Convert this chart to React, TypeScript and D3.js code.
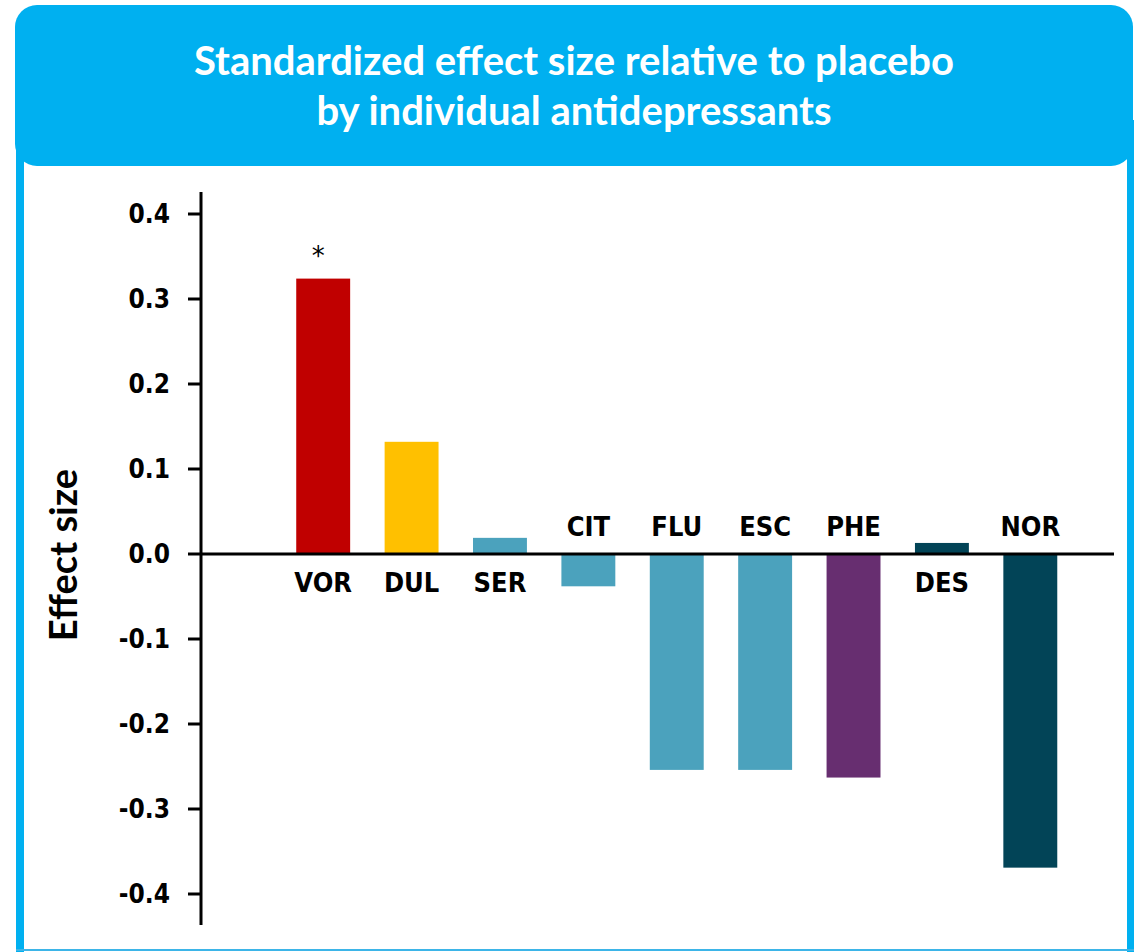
import React from "react";
import * as d3 from "d3";

const drugs = ["VOR", "DUL", "SER", "CIT", "FLU", "ESC", "PHE", "DES", "NOR"];
const effectSizes = [0.324, 0.132, 0.019, -0.038, -0.254, -0.254, -0.263, 0.013, -0.369];
const barColors = ["#C00000", "#FFC000", "#4BA2BD", "#4BA2BD", "#4BA2BD", "#4BA2BD", "#672E70", "#024457", "#024457"];
const yTicks = [0.4, 0.3, 0.2, 0.1, 0.0, -0.1, -0.2, -0.3, -0.4];
const significant = ["VOR"];

const W = 1142;
const H = 952;
const blue = "#00B0F0";
const labelFont = "'DejaVu Sans Condensed', 'DejaVu Sans', sans-serif";

// plain hyphen instead of d3's unicode minus
const fmt = (t: number) => d3.format(".1f")(t).replace("\u2212", "-");

const App = () => {
  const y = d3.scaleLinear().domain([-0.4, 0.4]).range([894, 214]);
  const x = d3.scaleBand<string>().domain(drugs).range([279, 1074.5]).paddingInner(0.39).paddingOuter(0.195);
  const y0 = y(0);

  return (
    <svg width={W} height={H} style={{ position: "absolute", left: 0, top: 0 }}>
      <rect x={0} y={0} width={W} height={H} fill="#fff" />

      {/* frame */}
      <rect x={16} y={120} width={8} height={832} fill={blue} />
      <rect x={1127} y={120} width={7} height={832} fill={blue} />
      <rect x={16} y={949} width={1118} height={2} fill="#3DB5E8" />
      <rect x={15} y={5} width={1118} height={161} rx={22} fill={blue} />

      <text x={574} y={75} textAnchor="middle" fill="#fff" fontFamily="Lato, sans-serif" fontWeight={700} fontSize={40}>
        Standardized effect size relative to placebo
      </text>
      <text x={574} y={125} textAnchor="middle" fill="#fff" fontFamily="Lato, sans-serif" fontWeight={700} fontSize={40}>
        by individual antidepressants
      </text>

      {/* y axis */}
      <line x1={201} x2={201} y1={192} y2={925} stroke="#000" strokeWidth={3} />
      {yTicks.map((t) => (
        <g key={t} transform={`translate(0,${y(t)})`}>
          <line x1={188} x2={201} stroke="#000" strokeWidth={3} />
          <text x={170} dy="0.36em" textAnchor="end" fontFamily={labelFont} fontStretch="condensed" fontWeight={700} fontSize={26} fill="#000">
            {fmt(t)}
          </text>
        </g>
      ))}

      <text
        transform="translate(77,555) rotate(-90)"
        textAnchor="middle"
        fontFamily="Lato, sans-serif"
        fontWeight={700}
        fontSize={38}
        fill="#000"
      >
        Effect size
      </text>

      {/* bars */}
      {drugs.map((d, i) => {
        const v = effectSizes[i];
        const bx = x(d) as number;
        const top = v >= 0 ? y(v) : y0;
        const h = Math.abs(y(v) - y0);
        const cx = bx + x.bandwidth() / 2;
        return (
          <g key={d}>
            <rect x={bx} y={top} width={x.bandwidth()} height={h} fill={barColors[i]} />
            <text
              x={cx}
              y={v >= 0 ? y0 + 38 : y0 - 18}
              textAnchor="middle"
              fontFamily={labelFont}
              fontStretch="condensed"
              fontWeight={700}
              fontSize={27}
              fill="#000"
            >
              {d}
            </text>
            {significant.includes(d) && (
              <text x={cx - 5} y={top - 14} textAnchor="middle" fontFamily="'DejaVu Sans', sans-serif" fontSize={26} fill="#000">
                *
              </text>
            )}
          </g>
        );
      })}

      {/* zero line */}
      <line x1={201} x2={1114} y1={y0} y2={y0} stroke="#000" strokeWidth={3} />
    </svg>
  );
};

export default App;
